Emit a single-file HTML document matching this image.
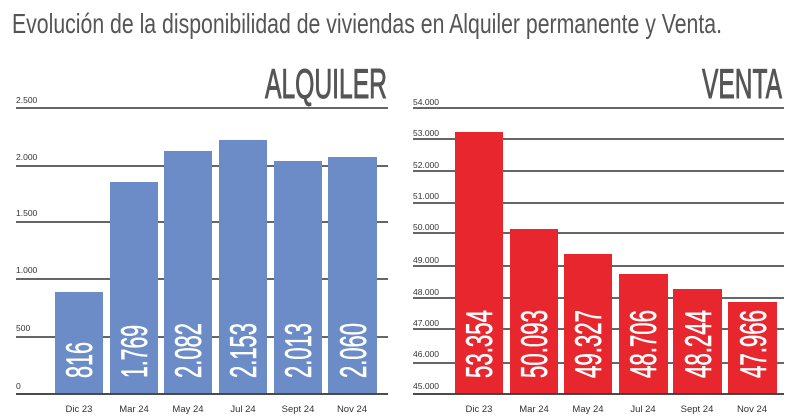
<!DOCTYPE html>
<html><head><meta charset="utf-8"><style>
html,body{margin:0;padding:0;background:#fff;width:800px;height:419px;overflow:hidden}
svg{display:block}
text{font-family:"Liberation Sans Narrow","Liberation Sans",sans-serif}
.t{fill:#555}
.tk{font-size:8.5px;fill:#333;font-family:"Liberation Sans",sans-serif}
.xl{font-size:9.5px;fill:#333;font-family:"Liberation Sans",sans-serif}
.v{fill:#fff;font-size:37px;stroke:#fff;stroke-width:0.6}
</style></head><body>
<svg width="800" height="419" viewBox="0 0 800 419">
<text class="t" x="12" y="33" font-size="28" textLength="710" lengthAdjust="spacingAndGlyphs">Evolución de la disponibilidad de viviendas en Alquiler permanente y Venta.</text>
<text class="t" x="265" y="98" font-size="42" stroke="#555" stroke-width="1" textLength="122" lengthAdjust="spacingAndGlyphs">ALQUILER</text>
<text class="t" x="702" y="98" font-size="42" stroke="#555" stroke-width="1" textLength="80" lengthAdjust="spacingAndGlyphs">VENTA</text>

<g stroke="#333" stroke-width="1.5">
<line x1="16" x2="388" y1="108" y2="108"/><line x1="16" x2="388" y1="166" y2="166"/>
<line x1="16" x2="388" y1="222" y2="222"/><line x1="16" x2="388" y1="279" y2="279"/>
<line x1="16" x2="388" y1="337" y2="337"/><line x1="16" x2="388" y1="394" y2="394"/>
<line x1="413" x2="784" y1="108" y2="108"/><line x1="413" x2="784" y1="139" y2="139"/>
<line x1="413" x2="784" y1="171" y2="171"/><line x1="413" x2="784" y1="203" y2="203"/>
<line x1="413" x2="784" y1="233" y2="233"/><line x1="413" x2="784" y1="266" y2="266"/>
<line x1="413" x2="784" y1="298" y2="298"/><line x1="413" x2="784" y1="329" y2="329"/>
<line x1="413" x2="784" y1="363" y2="363"/><line x1="413" x2="784" y1="394" y2="394"/>
</g>
<g class="tk">
<text x="16" y="103">2.500</text><text x="16" y="160">2.000</text><text x="16" y="216">1.500</text>
<text x="16" y="273">1.000</text><text x="16" y="331">500</text><text x="16" y="389">0</text>
<text x="413" y="105">54.000</text><text x="413" y="136">53.000</text><text x="413" y="168">52.000</text>
<text x="413" y="199">51.000</text><text x="413" y="230">50.000</text><text x="413" y="263">49.000</text>
<text x="413" y="295">48.000</text><text x="413" y="326">47.000</text><text x="413" y="357">46.000</text>
<text x="413" y="389">45.000</text>
</g>
<g fill="#6b8cc7">
<rect x="55" y="292" width="48" height="102"/><rect x="110" y="182" width="48" height="212"/>
<rect x="164" y="151" width="48" height="243"/><rect x="219" y="140" width="48" height="254"/>
<rect x="274" y="161" width="48" height="233"/><rect x="328" y="157" width="49" height="237"/>
</g>
<g fill="#e8262e">
<rect x="455" y="132" width="48" height="262"/><rect x="510" y="229" width="48" height="165"/>
<rect x="564" y="254" width="48" height="140"/><rect x="619" y="274" width="49" height="120"/>
<rect x="673" y="289" width="49" height="105"/><rect x="728" y="302" width="49" height="92"/>
</g>
<g stroke="#333" stroke-width="1.5"><line x1="16" x2="388" y1="394" y2="394"/><line x1="413" x2="784" y1="394" y2="394"/></g>
<g class="v">
<text transform="translate(92,378) rotate(-90)" textLength="36" lengthAdjust="spacingAndGlyphs">816</text>
<text transform="translate(147,378) rotate(-90)" textLength="53" lengthAdjust="spacingAndGlyphs">1.769</text>
<text transform="translate(201,378) rotate(-90)" textLength="55" lengthAdjust="spacingAndGlyphs">2.082</text>
<text transform="translate(256,378) rotate(-90)" textLength="55" lengthAdjust="spacingAndGlyphs">2.153</text>
<text transform="translate(311,378) rotate(-90)" textLength="55" lengthAdjust="spacingAndGlyphs">2.013</text>
<text transform="translate(366,378) rotate(-90)" textLength="55" lengthAdjust="spacingAndGlyphs">2.060</text>
<text transform="translate(492,378) rotate(-90)" textLength="68" lengthAdjust="spacingAndGlyphs">53.354</text>
<text transform="translate(547,378) rotate(-90)" textLength="68" lengthAdjust="spacingAndGlyphs">50.093</text>
<text transform="translate(601,378) rotate(-90)" textLength="68" lengthAdjust="spacingAndGlyphs">49.327</text>
<text transform="translate(656,378) rotate(-90)" textLength="68" lengthAdjust="spacingAndGlyphs">48.706</text>
<text transform="translate(711,378) rotate(-90)" textLength="68" lengthAdjust="spacingAndGlyphs">48.244</text>
<text transform="translate(766,378) rotate(-90)" textLength="68" lengthAdjust="spacingAndGlyphs">47.966</text>
</g>
<g class="xl" text-anchor="middle">
<text x="79" y="412">Dic 23</text><text x="134" y="412">Mar 24</text><text x="188" y="412">May 24</text>
<text x="243" y="412">Jul 24</text><text x="298" y="412">Sept 24</text><text x="352" y="412">Nov 24</text>
<text x="479" y="412">Dic 23</text><text x="534" y="412">Mar 24</text><text x="588" y="412">May 24</text>
<text x="643" y="412">Jul 24</text><text x="697" y="412">Sept 24</text><text x="752" y="412">Nov 24</text>
</g>
</svg>
</body></html>
